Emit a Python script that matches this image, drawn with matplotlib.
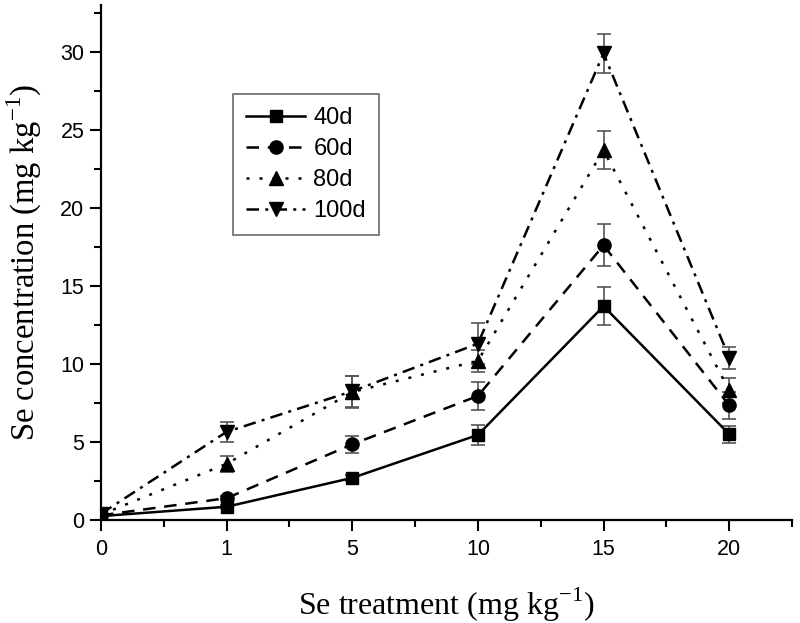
import matplotlib
matplotlib.use("Agg")
import matplotlib.pyplot as plt
import numpy as np

categories = ["0", "1", "5", "10", "15", "20"]
series_names = ["40d", "60d", "80d", "100d"]
vals_40 = [0.25, 0.85, 2.7, 5.45, 13.7, 5.5]
err_40 = [0.05, 0.1, 0.2, 0.65, 1.2, 0.55]
vals_60 = [0.3, 1.4, 4.85, 7.95, 17.6, 7.35]
err_60 = [0.05, 0.15, 0.55, 0.9, 1.35, 0.85]
vals_80 = [0.35, 3.6, 8.2, 10.2, 23.7, 8.3]
err_80 = [0.05, 0.5, 1.05, 0.7, 1.2, 0.8]
vals_100 = [0.4, 5.65, 8.25, 11.3, 29.9, 10.4]
err_100 = [0.05, 0.65, 1.0, 1.3, 1.25, 0.7]

plt.rcParams['font.family'] = ['Liberation Sans', 'DejaVu Sans']
plt.rcParams['mathtext.fontset'] = 'custom'
plt.rcParams['mathtext.rm'] = 'Liberation Serif'

fig = plt.figure(figsize=(8.0, 6.23), dpi=100)
ax = fig.add_axes([101/800, 1 - 520/623, (792-101)/800, (520-5)/623])

x = np.arange(len(categories))
styles = [
    dict(marker='s', ls='-', ms=9),
    dict(marker='o', ls=(0, (5, 3.5)), ms=9.5),
    dict(marker='^', ls=(0, (1.2, 4)), ms=10.5),
    dict(marker='v', ls=(0, (5, 2.5, 1.2, 2.5)), ms=10.5),
]
data = [(vals_40, err_40), (vals_60, err_60), (vals_80, err_80), (vals_100, err_100)]
for (v, e), st, name in zip(data, styles, series_names):
    ax.errorbar(x, v, yerr=e, fmt='none', ecolor='#555555', elinewidth=1.2,
                capsize=5, capthick=1.2, zorder=2)
    ax.plot(x, v, color='black', lw=1.8, linestyle=st['ls'], marker=st['marker'],
            ms=st['ms'], mfc='black', mec='black', label=name, zorder=3)

ax.set_xlim(0, 5.5)
ax.set_ylim(0, 33)
ax.set_xticks(x)
ax.set_xticklabels(categories)
ax.set_xticks(np.arange(0.5, 5.6, 1.0), minor=True)
ax.set_yticks(np.arange(0, 31, 5))
ax.set_yticks(np.arange(2.5, 33, 5), minor=True)

for s in ['top', 'right']:
    ax.spines[s].set_visible(False)
for s in ['left', 'bottom']:
    ax.spines[s].set_linewidth(1.6)
ax.tick_params(which='major', direction='out', length=8, width=1.5, labelsize=15.5, pad=4)
ax.tick_params(axis='x', which='major', pad=6)
ax.tick_params(which='minor', direction='out', length=5, width=1.5)

ax.set_xlabel(r'Se treatment (mg kg$^{\mathregular{-1}}$)', family='Liberation Serif',
              fontsize=23, labelpad=18)
ax.set_ylabel(r'Se concentration (mg kg$^{\mathregular{-1}}$)', family='Liberation Serif',
              fontsize=23.5, labelpad=12)

leg = ax.legend(loc='upper left', bbox_to_anchor=((233-101)/691, (520-94)/515),
                borderaxespad=0, fontsize=17, frameon=True, fancybox=False,
                edgecolor='#444444', handlelength=2.5, handletextpad=0.35,
                borderpad=0.55, labelspacing=0.38)
leg.get_frame().set_linewidth(1.2)

fig.savefig('out.png', dpi=100)
